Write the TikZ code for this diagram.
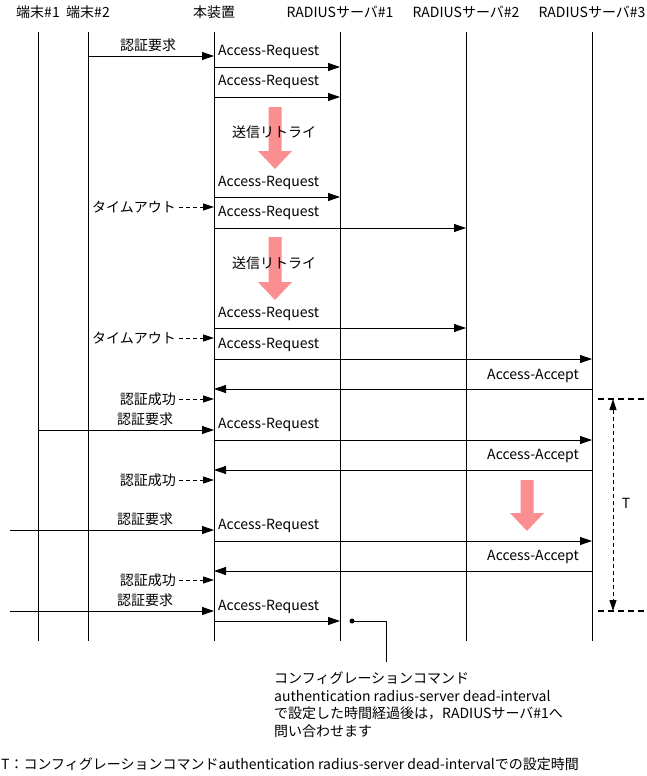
\documentclass[tikz,border=0pt]{standalone}
\usepackage{fontspec}
\setmainfont{Noto Sans CJK JP}
\usetikzlibrary{arrows.meta}
\definecolor{retry}{RGB}{250,142,145}
\tikzset{
  lbl/.style={font=\fontsize{14}{17.5}\selectfont, inner sep=0pt},
  life/.style={line width=0.8pt},
  msg/.style={line width=0.8pt, -{Triangle[length=12pt,width=8pt]}},
  local/.style={line width=0.8pt, dash pattern=on 4pt off 3pt, -{Triangle[length=11pt,width=7pt]}},
}
% pink "retry" arrow: x, top, tip
\newcommand{\retryarrow}[3]{%
  \fill[retry] (#1-6.5,#2) -- (#1+6.5,#2) -- (#1+6.5,#3-18) -- (#1+17,#3-18)
    -- (#1,#3) -- (#1-17,#3-18) -- (#1-6.5,#3-18) -- cycle;}
\begin{document}
\begin{tikzpicture}[x=1pt, y=-1pt]
  \useasboundingbox (0,0) rectangle (647,776);

  % lifelines
  \foreach \n/\x/\t in {term1/38/端末\#1, term2/88/端末\#2, dev/214/本装置,
      srv1/340/RADIUSサーバ\#1, srv2/466/RADIUSサーバ\#2, srv3/592/RADIUSサーバ\#3}{
    \node[lbl] (h\n) at (\x,12) {\t};
    \coordinate (\n) at (\x,32);
    \draw[life] (\n) -- (\x,641);
  }

  % requests from the terminals
  \coordinate (out1) at (10,530);
  \coordinate (out2) at (10,611);
  \node[lbl] (auth1) at (148,45) {認証要求};
  \draw[msg] (term2 |- 0,56) -- (dev |- 0,56);
  \node[lbl] (auth2) at (145,419) {認証要求};
  \draw[msg] (term1 |- 0,430) -- (dev |- 0,430);
  \node[lbl] (auth3) at (145,519) {認証要求};
  \draw[msg] (out1) -- (dev |- out1);
  \node[lbl] (auth4) at (145,600) {認証要求};
  \draw[msg] (out2) -- (dev |- out2);

  % Access-Request
  \foreach \i/\ly/\ay/\to in {1/52/67/srv1, 2/82/97/srv1, 3/183/197/srv1,
      4/213/228/srv2, 5/314/328/srv2, 6/345/359/srv3, 7/425/440/srv3,
      8/526/541/srv3, 9/607/621/srv1}{
    \node[lbl, anchor=west] (req\i) at (218,\ly) {Access-Request};
    \draw[msg] (dev |- 0,\ay) -- (\to |- 0,\ay);
  }

  % Access-Accept
  \foreach \i/\ly/\ay in {1/376/389, 2/456/470, 3/557/571}{
    \node[lbl, anchor=east] (acc\i) at (579,\ly) {Access-Accept};
    \draw[msg] (srv3 |- 0,\ay) -- (dev |- 0,\ay);
  }

  % local events
  \foreach \i/\y/\t in {1/207/タイムアウト, 2/338/タイムアウト,
      3/399/認証成功, 4/480/認証成功, 5/580/認証成功}{
    \node[lbl, anchor=east] (ev\i) at (176,\y) {\t};
    \draw[local] ([xshift=3pt]ev\i.east) -- (dev |- ev\i.east);
  }

  % retries
  \retryarrow{275}{107}{169}
  \node[lbl] (retry1) at (274,132) {送信リトライ};
  \retryarrow{275}{237}{300}
  \node[lbl] (retry2) at (274,263) {送信リトライ};
  \retryarrow{527}{480}{531}

  % T
  \draw[line width=1.4pt, dash pattern=on 6pt off 4pt] (598,399) -- (647,399);
  \draw[line width=1.4pt, dash pattern=on 6pt off 4pt] (598,611) -- (647,611);
  \coordinate (ttop) at (613,399);
  \coordinate (tbot) at (613,611);
  \draw[line width=0.8pt, dash pattern=on 4pt off 3pt,
    {Triangle[length=11pt,width=7pt]}-{Triangle[length=11pt,width=7pt]}] (ttop) -- (tbot);
  \node[lbl] (tlabel) at (626,503) {T};

  % note
  \fill (352,621) circle (2.5) coordinate (dot);
  \coordinate (bend) at (386,621);
  \coordinate (noteend) at (386,662);
  \draw[line width=0.8pt] (dot) -- (bend) -- (noteend);
  \node[lbl, anchor=north west, align=left] (note) at (274,672)
    {コンフィグレーションコマンド\\authentication radius-server dead-interval\\で設定した時間経過後は，RADIUSサーバ\#1へ\\問い合わせます};

  \node[lbl, anchor=west] (legend) at (1,764)
    {T：コンフィグレーションコマンドauthentication radius-server dead-intervalでの設定時間};
\end{tikzpicture}
\end{document}
